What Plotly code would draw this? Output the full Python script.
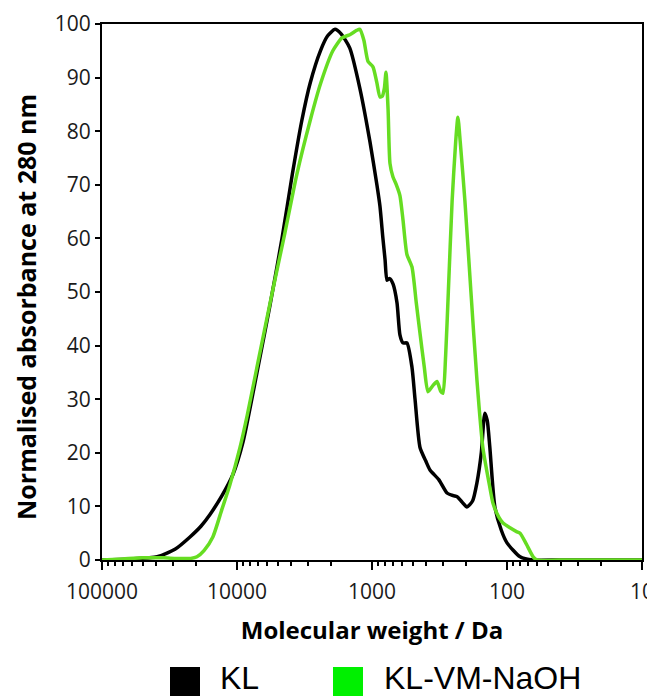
import plotly.graph_objects as go

# ---- data ----
kl_mw = [100000, 62000, 39000, 28800, 22300, 18500, 15850, 12920, 10700, 9030,
         7110, 5700, 4640, 3890, 3310, 2870, 2410, 2130, 1880, 1700, 1460, 1230,
         1035, 920, 873, 830, 800, 774, 740, 699, 653, 621, 590, 551, 506, 480,
         441, 400, 372, 320, 278, 250, 234, 215, 198, 180, 167, 155, 146, 140,
         134, 123, 110, 100, 80, 64, 40, 10]
kl_abs = [0, 0.2, 0.6, 2, 4.3, 6.3, 8.5, 12, 16, 22,
          35, 47.5, 60, 72, 82, 89, 95, 97.8, 99, 98.2, 95.5, 88,
          78, 70, 66, 60, 56, 52.2, 52.5, 51.5, 48, 42, 40.5, 40.5, 36, 30,
          21, 18.5, 16.8, 15, 12.5, 12, 11.8, 10.8, 9.9, 11, 14.4, 20, 27.4, 26,
          21, 9.9, 5.5, 3.2, 0.6, 0, 0, 0]

vm_mw = [100000, 70000, 50000, 35000, 28000, 22000, 19800, 17500, 15100, 12920,
         11300, 9500, 8400, 6980, 5420, 4420, 3600, 2870, 2410, 1950, 1670, 1460,
         1300, 1230, 1150, 1070, 984, 920, 873, 840, 810, 788, 760, 736, 700, 660,
         621, 589, 551, 506, 470, 441, 410, 385, 355, 330, 310, 298, 285, 272,
         255, 240, 231, 222, 205, 185, 167, 151, 135, 127, 115, 107, 95, 85, 80,
         72, 64, 60, 40, 10]
vm_abs = [0, 0.2, 0.4, 0.4, 0.3, 0.3, 0.6, 1.8, 4.3, 9.5,
          14, 21, 27, 37, 50.5, 61, 72, 82, 88.8, 95, 97.4, 98,
          98.8, 99, 97, 93, 92, 89, 86.4, 86.5, 88, 91, 84, 74, 71.5, 70,
          68, 63.4, 57, 54.7, 48, 42.3, 36, 31.4, 32.5, 33.3, 31.5, 31.1, 38, 50,
          67, 78, 82.6, 78, 67, 50, 33.6, 21, 14, 10.6, 8, 6.9, 6, 5.3, 5,
          3, 0.6, 0, 0, 0]

x_tickvals = [100000, 10000, 1000, 100, 10]
x_ticktext = ["100000", "10000", "1000", "100", "10"]
series_names = ["KL", "KL-VM-NaOH"]
line_colors = ["#000000", "#66DD22"]
legend_colors = ["#000000", "#00F000"]

minor_vals = [m * 10 ** k for k in range(1, 5) for m in range(2, 10)]

# the page body has an 8px default margin: compensate so the plot lands where the reference has it
OFF = 8
W, H = 655 - OFF, 696 - OFF
ML, MR, MT, MB = 102 - OFF, 13, 24 - OFF, 136

fig = go.Figure()
fig.add_trace(go.Scatter(x=kl_mw, y=kl_abs, mode="lines", name=series_names[0],
                         line=dict(color=line_colors[0], width=3.5, shape="spline", smoothing=0.6),
                         showlegend=False))
fig.add_trace(go.Scatter(x=vm_mw, y=vm_abs, mode="lines", name=series_names[1],
                         line=dict(color=line_colors[1], width=3.5, shape="spline", smoothing=0.6),
                         showlegend=False))

tick_font = dict(family="Open Sans", size=21, color="#1a1a1a")

fig.update_xaxes(type="log", range=[5, 1], tickvals=x_tickvals, ticktext=x_ticktext,
                 ticks="outside", ticklen=8, tickwidth=2, tickcolor="black",
                 minor=dict(tickvals=minor_vals, ticks="outside", ticklen=4,
                            tickwidth=2, tickcolor="black", showgrid=False),
                 showline=True, linecolor="black", linewidth=2, mirror=True,
                 showgrid=False, zeroline=False, tickfont=tick_font, automargin=False,
                 ticklabelstandoff=4,
                 title=dict(text="<b>Molecular weight / Da</b>",
                            font=dict(family="Open Sans", size=24, color="#000000"), standoff=18))
fig.update_yaxes(range=[0, 100], dtick=10, ticks="outside", ticklen=5, tickwidth=2,
                 tickcolor="black", showline=True, linecolor="black", linewidth=2,
                 mirror=True, showgrid=False, zeroline=False, tickfont=tick_font, automargin=False)

ph = H - MT - MB
pw = W - ML - MR
def px_x(p):  # page pixel -> paper fraction
    return (p - OFF - ML) / pw
def px_y(p):
    return (H - MB - (p - OFF)) / ph

# y-axis title (placed as in the reference, slightly below the plot centre)
fig.add_annotation(xref="paper", yref="paper", x=px_x(26), y=px_y(307),
                   xanchor="center", yanchor="middle", textangle=-90, showarrow=False,
                   text="<b>Normalised absorbance at 280 nm</b>",
                   font=dict(family="Open Sans", size=25, color="#000000"))

# legend drawn below (squares + real text), clipped at the bottom as in the reference
legend_items = [(170, 218), (333, 382)]
for (sx, tx), name, col in zip(legend_items, series_names, legend_colors):
    fig.add_shape(type="rect", xref="paper", yref="paper",
                  x0=px_x(sx), x1=px_x(sx + 30), y0=px_y(698), y1=px_y(667),
                  fillcolor=col, line=dict(width=0))
    fig.add_annotation(xref="paper", yref="paper", x=px_x(tx), y=px_y(678),
                       xanchor="left", yanchor="middle", text=name, showarrow=False,
                       font=dict(family="Liberation Sans", size=32, color="#000000"))

fig.update_layout(width=W, height=H, margin=dict(l=ML, r=MR, t=MT, b=MB),
                  plot_bgcolor="white", paper_bgcolor="white", showlegend=False)

fig.write_html("out.html")
